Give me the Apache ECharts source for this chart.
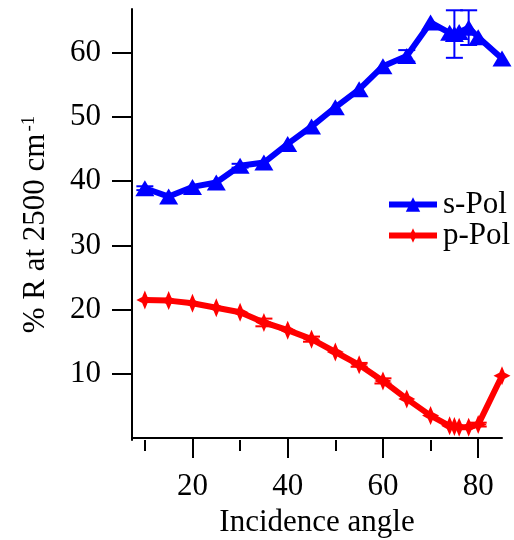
<!doctype html>
<html>
<head>
<meta charset="utf-8">
<title>Reflectance vs incidence angle</title>
<script src="https://cdn.jsdelivr.net/npm/echarts@6/dist/echarts.min.js"></script>
<style>
  html, body { margin: 0; padding: 0; background: #fff; }
  #main { width: 514px; height: 540px; }
</style>
</head>
<body>
<div id="main"></div>
<script>
var angles = [10, 15, 20, 25, 30, 35, 40, 45, 50, 55, 60, 65, 70, 74, 75, 76, 78, 80, 85];
var sPol = [38.9, 37.6, 39.1, 39.8, 42.4, 42.9, 45.8, 48.5, 51.5, 54.3, 57.9, 59.5, 64.7, 63.1, 62.9, 63.2, 63.9, 62.4, 59.1];
var sErr = [0.3, 0, 0, 0, 0.3, 0, 0, 0, 0, 0, 0, 0.9, 0, 0, 3.7, 0, 2.7, 0, 0];
var pPol = [21.5, 21.4, 21.0, 20.3, 19.6, 18.0, 16.8, 15.4, 13.4, 11.4, 8.9, 6.1, 3.5, 1.9, 1.8, 1.7, 1.7, 2.1, 9.7];
var pErr = [0, 0, 0, 0, 0, 0.6, 0, 0.4, 0, 0.3, 0.4, 0, 0, 0, 0, 0, 0, 0.3, 0];

var majorX = [20, 40, 60, 80];
var minorX = [10, 30, 50, 70];
var yTicks = [10, 20, 30, 40, 50, 60];

var FONT = 'Liberation Serif';
var star = 'path://M0,-10 L3.2,-3.2 L10,0 L3.2,3.2 L0,10 L-3.2,3.2 L-10,0 L-3.2,-3.2 Z';

function pairs(ys) {
    return angles.map(function (a, i) { return [a, ys[i]]; });
}

function errData(ys, errs) {
    var out = [];
    angles.forEach(function (a, i) {
        if (errs[i] > 0) out.push([a, ys[i] - errs[i], ys[i] + errs[i]]);
    });
    return out;
}

function errSeries(name, ys, errs, color) {
    return {
        name: name,
        type: 'custom',
        data: errData(ys, errs),
        z: 3,
        renderItem: function (params, api) {
            var x = api.value(0);
            var top = api.coord([x, api.value(2)]);
            var bot = api.coord([x, api.value(1)]);
            var half = 8.5;
            var style = { stroke: color, lineWidth: 2 };
            return {
                type: 'group',
                children: [
                    { type: 'line', shape: { x1: top[0], y1: top[1], x2: bot[0], y2: bot[1] }, style: style },
                    { type: 'line', shape: { x1: top[0] - half, y1: top[1], x2: top[0] + half, y2: top[1] }, style: style },
                    { type: 'line', shape: { x1: bot[0] - half, y1: bot[1], x2: bot[0] + half, y2: bot[1] }, style: style }
                ]
            };
        }
    };
}

var axisLine = { show: true, lineStyle: { color: '#000', width: 2 } };

var chart = echarts.init(document.getElementById('main'));
chart.setOption({
    animation: false,
    grid: { left: 132, right: 12, top: 9, bottom: 100, containLabel: false, outerBoundsMode: 'none' },
    legend: {
        orient: 'vertical',
        left: 381,
        top: 184,
        itemWidth: 48,
        itemHeight: 18,
        itemGap: 0,
        data: ['s-Pol', 'p-Pol'],
        lineStyle: { width: 6 },
        textStyle: { fontFamily: FONT, fontSize: 31, color: '#000', padding: [0, 0, 0, 1] }
    },
    xAxis: [{
        type: 'value',
        min: 7.3,
        max: 85,
        name: 'Incidence angle',
        nameLocation: 'middle',
        nameGap: 67,
        nameTextStyle: { fontFamily: FONT, fontSize: 31, color: '#000' },
        axisLine: axisLine,
        axisTick: { show: true, customValues: majorX, length: 20, lineStyle: { color: '#000', width: 2 } },
        axisLabel: { customValues: majorX, margin: 31, fontFamily: FONT, fontSize: 31, color: '#000' },
        splitLine: { show: false }
    }, {
        type: 'value',
        min: 7.3,
        max: 85,
        position: 'bottom',
        axisLine: { show: false },
        axisTick: { show: true, customValues: minorX, length: 11, lineStyle: { color: '#000', width: 2 } },
        axisLabel: { show: false },
        splitLine: { show: false }
    }],
    yAxis: {
        type: 'value',
        min: -0.3,
        max: 66.8,
        name: '% R at 2500 cm{sup|-1}',
        nameLocation: 'middle',
        nameGap: 81,
        nameRotate: 90,
        nameTextStyle: {
            fontFamily: FONT, fontSize: 31, color: '#000',
            rich: { sup: { fontFamily: FONT, fontSize: 19, color: '#000', verticalAlign: 'top', padding: [0, 0, 12, 2] } }
        },
        axisLine: axisLine,
        axisTick: { show: true, customValues: yTicks, length: 20, lineStyle: { color: '#000', width: 2 } },
        axisLabel: { customValues: yTicks, margin: 31, fontFamily: FONT, fontSize: 31, color: '#000' },
        splitLine: { show: false }
    },
    series: [
        {
            name: 's-Pol',
            type: 'line',
            data: pairs(sPol),
            symbol: 'triangle',
            symbolSize: [19, 16],
            color: '#0000ff',
            lineStyle: { width: 6, color: '#0000ff' },
            itemStyle: { color: '#0000ff' },
            z: 4
        },
        {
            name: 'p-Pol',
            type: 'line',
            data: pairs(pPol),
            symbol: star,
            symbolSize: [17, 19],
            color: '#ff0000',
            lineStyle: { width: 6, color: '#ff0000' },
            itemStyle: { color: '#ff0000' },
            z: 4
        },
        errSeries('s-err', sPol, sErr, '#0000ff'),
        errSeries('p-err', pPol, pErr, '#ff0000')
    ]
});
</script>
</body>
</html>
